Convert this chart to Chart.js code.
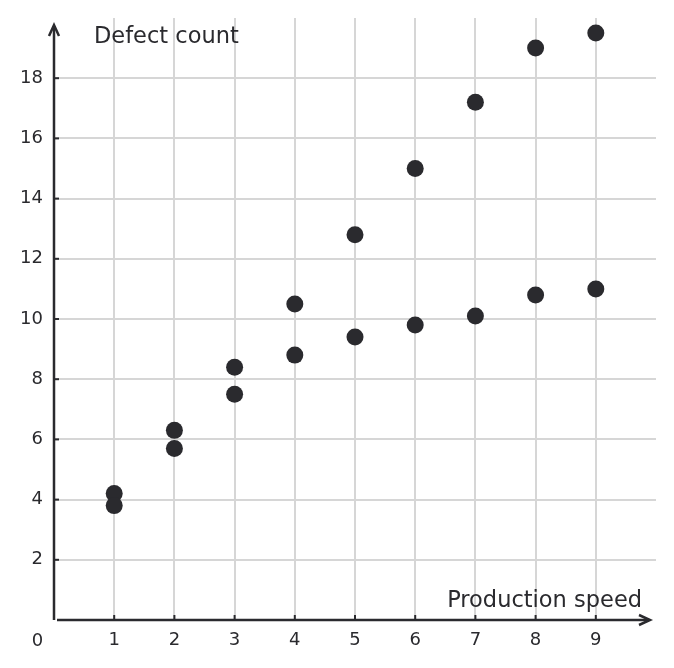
<!DOCTYPE html>
<html lang="en">
<head>
<meta charset="UTF-8">
<title>Defect count vs production speed</title>
<script src="https://cdn.jsdelivr.net/npm/chart.js"></script>
<style>
  html, body { margin: 0; padding: 0; background: #fff; }
  #wrap { width: 674px; height: 668px; }
</style>
</head>
<body>
<div id="wrap"><canvas id="defectChart" width="674" height="668"></canvas></div>
<script>
// data
const speeds = [1, 2, 3, 4, 5, 6, 7, 8, 9];
const upperDefects = [4.2, 6.3, 8.4, 10.5, 12.8, 15.0, 17.2, 19.0, 19.5];
const lowerDefects = [3.8, 5.7, 7.5, 8.8, 9.4, 9.8, 10.1, 10.8, 11.0];
const xTicks = [1, 2, 3, 4, 5, 6, 7, 8, 9];
const yTicks = [2, 4, 6, 8, 10, 12, 14, 16, 18];

const ink = '#2a2a2e';
const gridColor = '#d6d6d6';
const font = 'DejaVu Sans';

const points = [];
speeds.forEach((s, i) => {
    points.push({ x: s, y: upperDefects[i] });
    points.push({ x: s, y: lowerDefects[i] });
});

// axes with arrows, small ticks and the titles
const axesPlugin = {
    id: 'axes',
    afterDraw(chart) {
        const c = chart.ctx;
        const xs = chart.scales.x, ys = chart.scales.y;
        const x0 = xs.getPixelForValue(0), y0 = ys.getPixelForValue(0);
        c.save();
        c.strokeStyle = ink;
        c.fillStyle = ink;
        c.lineWidth = 2.5;
        c.lineCap = 'butt';
        // y axis
        c.beginPath();
        c.moveTo(x0, y0);
        c.lineTo(x0, 26);
        c.stroke();
        c.beginPath();
        c.moveTo(x0 - 5, 36);
        c.lineTo(x0, 25);
        c.lineTo(x0 + 5, 36);
        c.stroke();
        // x axis
        c.beginPath();
        c.moveTo(x0 + 3, y0);
        c.lineTo(649, y0);
        c.stroke();
        c.beginPath();
        c.moveTo(639, y0 - 5);
        c.lineTo(650, y0);
        c.lineTo(639, y0 + 5);
        c.stroke();
        // tick marks
        c.lineWidth = 2;
        xTicks.forEach(v => {
            const px = xs.getPixelForValue(v);
            c.beginPath();
            c.moveTo(px, y0);
            c.lineTo(px, y0 - 5);
            c.stroke();
        });
        yTicks.forEach(v => {
            const py = ys.getPixelForValue(v);
            c.beginPath();
            c.moveTo(x0, py);
            c.lineTo(x0 + 5, py);
            c.stroke();
        });
        // titles and origin label
        c.font = '22.5px "' + font + '"';
        c.textBaseline = 'alphabetic';
        c.textAlign = 'left';
        c.fillText('Defect count', 94, 43);
        c.textAlign = 'right';
        c.fillText('Production speed', 642, 606.5);
        c.font = '18px "' + font + '"';
        c.textAlign = 'center';
        c.fillText('0', 37.5, 646);
        c.restore();
    }
};

new Chart(document.getElementById('defectChart'), {
    type: 'scatter',
    data: {
        datasets: [{
            data: points,
            backgroundColor: ink,
            borderWidth: 0,
            pointRadius: 8.5,
            pointHoverRadius: 8.5
        }]
    },
    options: {
        responsive: false,
        animation: false,
        layout: { padding: { left: 0, right: 18, top: 18, bottom: 0 } },
        plugins: { legend: { display: false }, tooltip: { enabled: false } },
        scales: {
            x: {
                type: 'linear',
                min: 0,
                max: 10,
                afterBuildTicks: (s) => { s.ticks = xTicks.map(v => ({ value: v })); },
                afterFit: (s) => { s.height = 48; s.paddingLeft = 0; s.paddingRight = 0; },
                grid: { color: gridColor, lineWidth: 2, drawTicks: false },
                border: { display: false },
                ticks: { color: ink, font: { family: font, size: 18 }, padding: 10 }
            },
            y: {
                type: 'linear',
                min: 0,
                max: 20,
                afterBuildTicks: (s) => { s.ticks = yTicks.map(v => ({ value: v })); },
                afterFit: (s) => { s.width = 54; s.paddingTop = 0; s.paddingBottom = 0; },
                grid: { color: gridColor, lineWidth: 2, drawTicks: false },
                border: { display: false },
                ticks: { color: ink, font: { family: font, size: 18 }, padding: 11 }
            }
        }
    },
    plugins: [axesPlugin]
});
</script>
</body>
</html>
